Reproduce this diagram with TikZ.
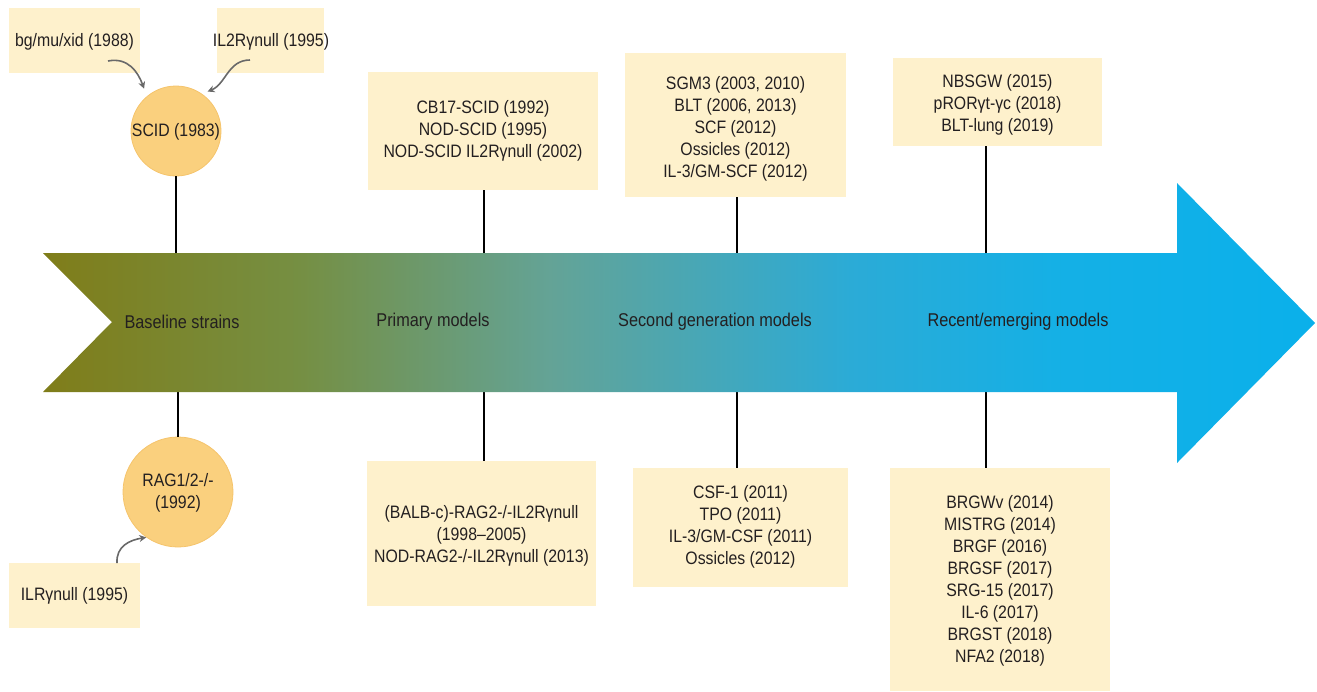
\documentclass[tikz,border=0pt]{standalone}
\usepackage{fontspec}
\setmainfont{Liberation Sans}[FakeStretch=0.88]
\usetikzlibrary{arrows.meta}
\definecolor{boxfill}{RGB}{254,241,204}
\definecolor{circfill}{RGB}{250,208,126}
\definecolor{circdraw}{RGB}{245,196,108}
\definecolor{txt}{RGB}{35,31,32}
\definecolor{curv}{RGB}{105,105,105}
\pgfdeclarehorizontalshading{timeline}{100bp}{rgb(0bp)=(0.50,0.49,0.10); rgb(25bp)=(0.50,0.49,0.10); rgb(35bp)=(0.46,0.56,0.26); rgb(45bp)=(0.39,0.64,0.59); rgb(56.7bp)=(0.17,0.67,0.84); rgb(65bp)=(0.08,0.69,0.90); rgb(75bp)=(0.04,0.69,0.92); rgb(100bp)=(0.04,0.69,0.92)}
\begin{document}
\begin{tikzpicture}[x=1pt,y=-1pt,
  box/.style={fill=boxfill, draw=none, inner sep=0pt},
  lbl/.style={text=txt, align=center, font=\fontsize{18}{22}\selectfont, inner sep=0pt},
  circ/.style={circle, fill=circfill, draw=circdraw, line width=0.8pt, inner sep=0pt},
  stem/.style={line width=2.8pt, black},
  curvy/.style={curv, line width=1.6pt, -{Stealth[length=7pt,width=7pt]}},
  arrlbl/.style={text=txt, font=\fontsize{18.5}{22}\selectfont, inner sep=0pt}]
\useasboundingbox (0,0) rectangle (1317,691);

% stems anchor coordinates on arrow edges
\coordinate (t1) at (176,253);
\coordinate (b1) at (178,392);
\coordinate (t2) at (484,253);
\coordinate (b2) at (484,392);
\coordinate (t3) at (737,253);
\coordinate (b3) at (737,392);
\coordinate (t4) at (986,253);
\coordinate (b4) at (986,392);

% boxes
\node[box, minimum width=131pt, minimum height=65pt] (bgbox) at (74.5,40.5) {};
\node[lbl] (bgtxt) at (74.5,42) {bg/mu/xid (1988)};
\node[box, minimum width=107pt, minimum height=65pt] (ilbox) at (270.5,40.5) {};
\node[lbl] (iltxt) at (271,42) {IL2Rγnull (1995)};
\node[box, minimum width=131pt, minimum height=65pt] (ilrbox) at (74.5,595.5) {};
\node[lbl] (ilrtxt) at (74.5,596) {ILRγnull (1995)};

\node[box, minimum width=230pt, minimum height=118pt] (ptop) at (483,131) {};
\node[lbl] (ptoptxt) at (483,131) {CB17-SCID (1992)\\NOD-SCID (1995)\\NOD-SCID IL2Rγnull (2002)};
\node[box, minimum width=229pt, minimum height=145pt] (pbot) at (481.5,533.5) {};
\node[lbl] (pbottxt) at (481.5,536) {(BALB-c)-RAG2-/-IL2Rγnull\\(1998–2005)\\NOD-RAG2-/-IL2Rγnull (2013)};

\node[box, minimum width=221pt, minimum height=144pt] (stop) at (735.5,125) {};
\node[lbl] (stoptxt) at (735.5,129) {SGM3 (2003, 2010)\\BLT (2006, 2013)\\SCF (2012)\\Ossicles (2012)\\IL-3/GM-SCF (2012)};
\node[box, minimum width=215pt, minimum height=119pt] (sbot) at (740.5,527.5) {};
\node[lbl] (sbottxt) at (740.5,527) {CSF-1 (2011)\\TPO (2011)\\IL-3/GM-CSF (2011)\\Ossicles (2012)};

\node[box, minimum width=209pt, minimum height=88pt] (rtop) at (997.5,102) {};
\node[lbl] (rtoptxt) at (997.5,105) {NBSGW (2015)\\pRORγt-γc (2018)\\BLT-lung (2019)};
\node[box, minimum width=220pt, minimum height=223pt] (rbot) at (1000,579.5) {};
\node[lbl] (rbottxt) at (1000,581) {BRGWv (2014)\\MISTRG (2014)\\BRGF (2016)\\BRGSF (2017)\\SRG-15 (2017)\\IL-6 (2017)\\BRGST (2018)\\NFA2 (2018)};

% circles
\node[circ, minimum size=90pt] (scid) at (176,131) {};
\node[lbl] (scidtxt) at (176,132) {SCID (1983)};
\node[circ, minimum size=110pt] (rag) at (178,492) {};
\node[lbl] (ragtxt) at (178,493) {RAG1/2-/-\\(1992)};

% stems
\draw[stem] (scid.south) -- (t1);
\draw[stem] (b1) -- (rag.north);
\draw[stem] (t2 |- ptop.south) -- (t2);
\draw[stem] (b2) -- (b2 |- pbot.north);
\draw[stem] (t3 |- stop.south) -- (t3);
\draw[stem] (b3) -- (b3 |- sbot.north);
\draw[stem] (t4 |- rtop.south) -- (t4);
\draw[stem] (b4) -- (b4 |- rbot.north);

% main arrow
\shade[shading=timeline] (43,253) -- (1177,253) -- (1177,183) -- (1315,323) -- (1177,463) -- (1177,392) -- (43,392) -- (112,322) -- cycle;
\node[arrlbl] (l1) at (182,322) {Baseline strains};
\node[arrlbl] (l2) at (433,322) {Primary models};
\node[arrlbl] (l3) at (715,322) {Second generation models};
\node[arrlbl] (l4) at (1018,322) {Recent/emerging models};

% curved arrows
\coordinate (c1) at (108,61);
\coordinate (c2) at (250,60);
\coordinate (c3) at (117,563);
\draw[curvy, shorten >=8pt] (c1) .. controls (128,57) and (138,72) .. (scid.130);
\draw[curvy, shorten >=6pt] (c2) .. controls (228,60) and (226,84) .. (scid.55);
\draw[curvy] (c3) .. controls (116,546) and (130,540) .. (rag.235);
\end{tikzpicture}
\end{document}
